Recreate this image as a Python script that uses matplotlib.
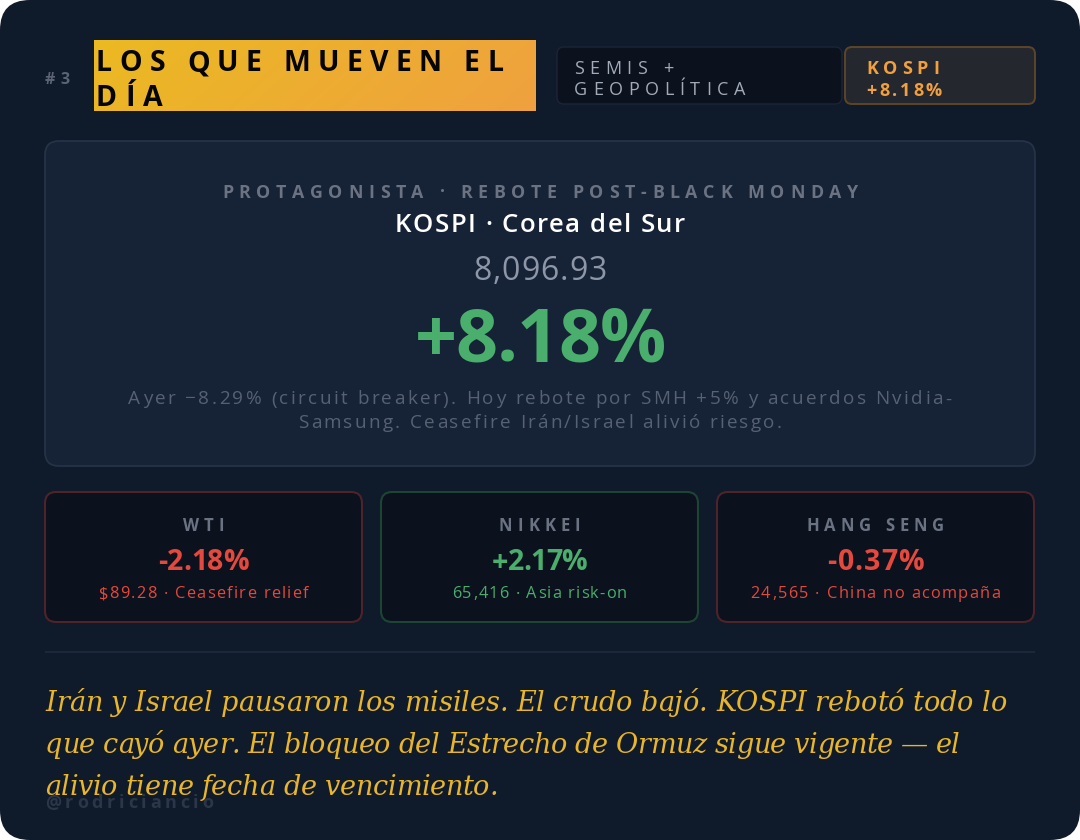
import matplotlib
matplotlib.use("Agg")
import matplotlib.pyplot as plt
import numpy as np
from matplotlib.patches import FancyBboxPatch
from matplotlib.font_manager import FontProperties
from matplotlib.colors import LinearSegmentedColormap

# ---------------- data ----------------
rank_label = "#3"
title_lines = ["LOS QUE MUEVEN EL", "DÍA"]
tab_lines = [["SEMIS +", "GEOPOLÍTICA"], ["KOSPI", "+8.18%"]]
hero_kicker = "PROTAGONISTA · REBOTE POST-BLACK MONDAY"
hero_name = "KOSPI · Corea del Sur"
hero_level = 8096.93
hero_change = 8.18
hero_note = ["Ayer −8.29% (circuit breaker). Hoy rebote por SMH +5% y acuerdos Nvidia-",
             "Samsung. Ceasefire Irán/Israel alivió riesgo."]
card_labels = ["WTI", "NIKKEI", "HANG SENG"]
card_changes = [-2.18, 2.17, -0.37]
card_details = ["$89.28 · Ceasefire relief", "65,416 · Asia risk-on", "24,565 · China no acompaña"]
quote_lines = ["Irán y Israel pausaron los misiles. El crudo bajó. KOSPI rebotó todo lo",
               "que cayó ayer. El bloqueo del Estrecho de Ormuz sigue vigente — el",
               "alivio tiene fecha de vencimiento."]
handle = "@rodriciancio"

# ---------------- style ----------------
BG = "#0F1A2A"
PANEL = "#162236"
PANEL_EDGE = "#253247"
CARD = "#0B111D"
RED = "#E5483C"
GREEN = "#4AAE6C"
RED_EDGE = "#4E2329"
GREEN_EDGE = "#1E4434"
GRAY = "#6B7383"
GOLD = "#E9B52B"
SANS = "Open Sans"
SERIF = "DejaVu Serif"

fig = plt.figure(figsize=(10.8, 8.4), dpi=100, facecolor="white")
ax = fig.add_axes([0, 0, 1, 1])
ax.set_xlim(0, 1080)
ax.set_ylim(840, 0)
ax.axis("off")
renderer = fig.canvas.get_renderer()


def measure(s, prop):
    return renderer.get_text_width_height_descent(s, prop, ismath=False)[0]


def draw(x, yb, s, size, color, weight="normal", family=SANS, style="normal",
         ha="left", width=None, spacing=0.0, z=5):
    prop = FontProperties(family=family, size=size, weight=weight, style=style)
    wH = measure("H", prop)
    wHH = measure("HH", prop)
    gap = wHH - 2 * wH
    advs = [measure("H" + c + "H", prop) - wHH for c in s]
    natural = sum(advs)
    n = len(s)
    if width is not None and n > 1:
        spacing = (width - natural) / (n - 1)
    total = natural + spacing * (n - 1)
    if ha == "center":
        x0 = x - total / 2
    elif ha == "right":
        x0 = x - total
    else:
        x0 = x
    cx = x0
    for c, a in zip(s, advs):
        if c != " ":
            off = (measure("H" + c, prop) - measure(c, prop) - wH) - gap / 2
            ax.text(cx + off, yb, c, fontproperties=prop, color=color, ha="left",
                    va="baseline", parse_math=False, zorder=z)
        cx += a + spacing


def box(x, y, w, h, r, fc, ec=None, lw=1.0, z=1):
    p = FancyBboxPatch((x, y), w, h, boxstyle=f"round,pad=0,rounding_size={r}",
                       facecolor=fc, edgecolor=ec if ec else "none", linewidth=lw, zorder=z)
    ax.add_patch(p)


# outer card
box(0, 0, 1080, 840, 30, BG, z=0)

# header
draw(45, 84.5, rank_label, 11.5, "#5B6474", weight="bold", width=25)
grad = np.linspace(0, 1, 256)[None, :] * 0.85 + np.linspace(0, 0.15, 32)[:, None]
cmap = LinearSegmentedColormap.from_list("g", ["#EBBA22", "#EFA13F"])
ax.imshow(grad, extent=[94, 536, 111, 40], cmap=cmap, aspect="auto", zorder=2, interpolation="bilinear")
draw(96, 71, title_lines[0], 20.5, "#050505", weight="bold", width=407, z=6)
draw(96, 106, title_lines[1], 20.5, "#050505", weight="bold", width=67, z=6)

box(557, 47, 285, 57, 7, CARD, "#1B2537", 1.0, z=2)
box(845, 47, 190, 57, 7, "#25272E", "#5E4526", 1.4, z=2)
draw(574, 73.5, tab_lines[0][0], 13, "#A3ABB8", width=99)
draw(574, 95.3, tab_lines[0][1], 13, "#A3ABB8", width=171)
draw(866, 73.5, tab_lines[1][0], 13, "#F2A03D", weight="bold", width=73)
draw(866, 96.3, tab_lines[1][1], 13, "#F2A03D", weight="bold", width=76)

# hero panel
box(45, 141, 990, 325, 14, PANEL, PANEL_EDGE, 1.3, z=1)
draw(540, 197.5, hero_kicker, 12.8, GRAY, weight="bold", ha="center", width=636)
draw(540, 232, hero_name, 18.5, "white", weight="semibold", ha="center", width=290)
draw(540, 280, f"{hero_level:,.2f}", 23, "#8E97A8", ha="center", width=134)
draw(540, 361.5, f"{hero_change:+.2f}%", 53, GREEN, weight="bold", ha="center", width=251)
draw(540, 404.5, hero_note[0], 13.6, "#566174", ha="center", width=823)
draw(540, 427.5, hero_note[1], 13.6, "#566174", ha="center", width=484)

# small cards
card_x = [45, 381, 717]
label_w = [41, 82, 138]
value_w = [90, 95, 96]
detail_w = [210, 175, 250]
for i in range(3):
    pos = card_changes[i] >= 0
    col = GREEN if pos else RED
    edge = GREEN_EDGE if pos else RED_EDGE
    box(card_x[i], 492, 317, 130, 11, CARD, edge, 1.5, z=1)
    cx = card_x[i] + 158.5
    draw(cx, 531, card_labels[i], 12, GRAY, weight="bold", ha="center", width=label_w[i])
    draw(cx, 570.5, f"{card_changes[i]:+.2f}%", 20.5, col, weight="bold", ha="center", width=value_w[i])
    draw(cx, 598.5, card_details[i], 11.8, col, ha="center", width=detail_w[i])

# divider
ax.plot([45, 1035], [652, 652], color="#1C2739", lw=1.5, zorder=1, solid_capstyle="butt")

# watermark + quote
draw(45, 808, handle, 13, "#2B3648", weight="bold", width=168, z=3)
quote_w = [962, 915, 453]
for i, line in enumerate(quote_lines):
    draw(45, 711 + 42 * i, line, 19.5, GOLD, family=SERIF, style="italic", width=quote_w[i], z=6)

fig.savefig("out.png", dpi=100, facecolor="white")
